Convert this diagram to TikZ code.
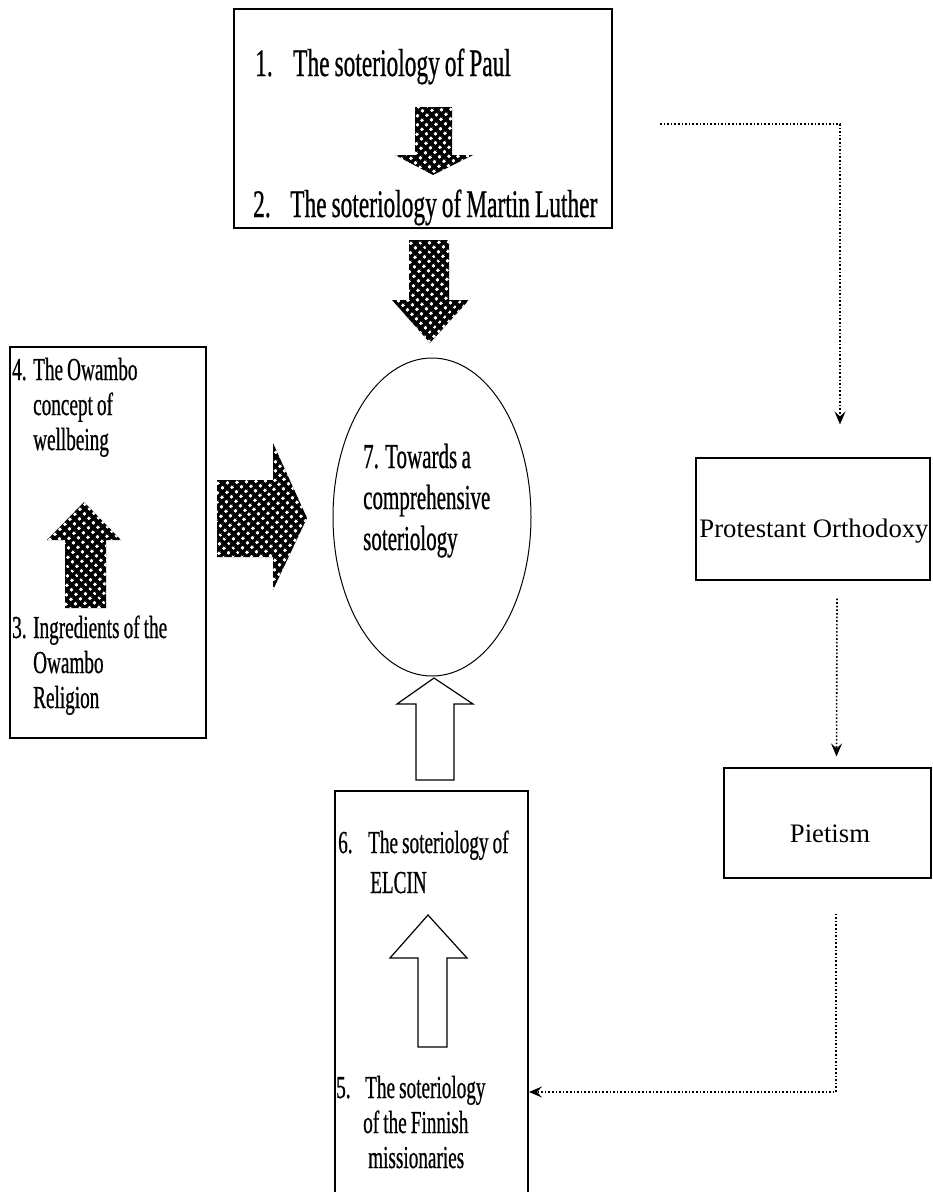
\documentclass[tikz,border=0pt]{standalone}
\usepackage{fontspec}
\setmainfont{Liberation Serif}
\newfontfamily\condfont[FakeStretch=0.6,WordSpace=0.85,FakeBold=0.6]{Liberation Serif}
\usetikzlibrary{arrows.meta,patterns.meta,shapes.geometric}
\begin{document}
\begin{tikzpicture}[x=1pt,y=-1pt,
  box/.style={draw, line width=1.2pt, inner sep=0pt},
  oval/.style={draw, ellipse, line width=1pt, inner sep=0pt},
  label40/.style={anchor=base west, inner sep=0pt, font=\condfont\fontsize{39}{41}\selectfont},
  label35/.style={anchor=base west, inner sep=0pt, align=flush left, text width=300pt, font=\condfont\fontsize{35}{41}\selectfont},
  label32/.style={anchor=base west, inner sep=0pt, align=flush left, text width=300pt, font=\condfont\fontsize{32}{35}\selectfont},
  label32b/.style={anchor=base west, inner sep=0pt, align=flush left, text width=300pt, font=\condfont\fontsize{32}{40}\selectfont},
  plain/.style={anchor=base, inner sep=0pt, font=\fontsize{26.7}{30}\selectfont},
  patarrow/.style={fill=black, postaction={pattern={Dots[distance=6.5pt,radius=1.8pt,angle=45]}, pattern color=white}},
  hollowarrow/.style={draw, fill=white, line width=1.2pt, line join=miter},
  conn/.style={line width=1.6pt, dash pattern=on 1.6pt off 2pt, -{Stealth[length=13pt,width=11pt,inset=5pt]}}
]
\fill[white] (0,0) rectangle (933,1192);
\useasboundingbox (0,0) rectangle (933,1192);

% boxes
\node[box, minimum width=378pt, minimum height=219pt] (top) at (423,118.5) {};
\node[box, minimum width=196pt, minimum height=391pt] (lb) at (108,542.5) {};
\node[box, minimum width=193pt, minimum height=405pt] (b5) at (431.5,993.5) {};
\node[box, minimum width=234pt, minimum height=122pt] (po) at (813,519) {};
\node[box, minimum width=207pt, minimum height=110pt] (pi) at (827.5,823) {};
\node[oval, minimum width=198pt, minimum height=318pt] (el) at (432,517) {};

% texts
\node[label40] (t1) at (255,76) {\makebox[38pt][l]{1.}The soteriology of Paul};
\node[label40] (t2) at (253,217) {\makebox[37pt][l]{2.}The soteriology of Martin Luther};
\node[label35] (t7) at (363,468) {7. Towards a\\comprehensive\\soteriology};
\node[label32] (t4) at (12,380) {\makebox[21pt][l]{4.}The Owambo\\\hspace*{21pt}concept of\\\hspace*{21pt}wellbeing};
\node[label32] (t3) at (12,638) {\makebox[21pt][l]{3.}Ingredients of the\\\hspace*{21pt}Owambo\\\hspace*{21pt}Religion};
\node[label32b] (t6) at (338,853) {\makebox[30pt][l]{6.}The soteriology of\\\hspace*{32pt}ELCIN};
\node[label32] (t5) at (336,1098) {\makebox[29pt][l]{5.}The soteriology\\\hspace*{27pt}of the Finnish\\\hspace*{32pt}missionaries};
\node[plain] (tpo) at (814,537) {Protestant Orthodoxy};
\node[plain] (tpi) at (830,842) {Pietism};

% block arrows
\path[patarrow] (415,107) -- (452,107) -- (452,155) -- (473,155) -- (433,175) -- (395,155) -- (415,155) -- cycle;
\path[patarrow] (409,240) -- (449,240) -- (449,300) -- (469,300) -- (430,343) -- (392,300) -- (409,300) -- cycle;
\path[patarrow] (65,608) -- (106,608) -- (106,540) -- (121,540) -- (84,502) -- (47,540) -- (65,540) -- cycle;
\path[patarrow] (217,480) -- (273,480) -- (273,443) -- (307,518) -- (273,590) -- (273,557) -- (217,557) -- cycle;
\path[hollowarrow] (416,780) -- (454,780) -- (454,704) -- (473,704) -- (434,678) -- (397,704) -- (416,704) -- cycle;
\path[hollowarrow] (418,1047) -- (447,1047) -- (447,958) -- (467,958) -- (428,915) -- (390,958) -- (418,958) -- cycle;

% dotted connectors
\coordinate (d1s) at (660,124);
\coordinate (d3e) at (529,1092);
\draw[conn] (d1s) -| ([xshift=27pt,yshift=33pt]po.north);
\draw[conn] ([xshift=24pt,yshift=-18pt]po.south) -- ([xshift=9pt,yshift=11pt]pi.north);
\draw[conn] ([xshift=8.5pt,yshift=-35pt]pi.south) |- (d3e);
\end{tikzpicture}
\end{document}
